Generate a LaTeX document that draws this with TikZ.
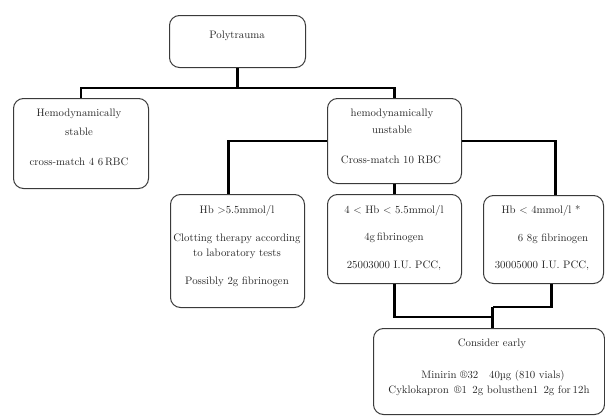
\documentclass[tikz,border=0pt]{standalone}
\usetikzlibrary{calc}
\definecolor{boxline}{HTML}{3A3A3A}
\definecolor{txt}{HTML}{262626}
\tikzset{
  box/.style={draw=boxline, line width=1pt, rounded corners=10pt, inner sep=0pt, anchor=north west},
  lbl/.style={text=txt, font=\fontsize{10.8}{13}\selectfont, inner sep=0pt, anchor=base},
  conn/.style={line width=2.6pt, black}
}
\begin{document}
\begin{tikzpicture}[x=1pt,y=-1pt]
\useasboundingbox (0,0) rectangle (605,415);
% boxes
\node[box, minimum width=136pt, minimum height=52pt] (poly) at (169,15) {};
\node[box, minimum width=135pt, minimum height=90pt] (stable) at (13,98) {};
\node[box, minimum width=134pt, minimum height=85pt] (unstable) at (327,98) {};
\node[box, minimum width=134pt, minimum height=113pt] (hbone) at (170,194) {};
\node[box, minimum width=134pt, minimum height=89pt] (hbtwo) at (327,194) {};
\node[box, minimum width=120pt, minimum height=88pt] (hbthree) at (483,195) {};
\node[box, minimum width=231pt, minimum height=86pt] (early) at (373,328) {};
% texts
\node[lbl] (tpoly) at (237,38) {Polytrauma};
\node[lbl] (ts1) at (79,116) {Hemodynamically};
\node[lbl] (ts2) at (79,135) {stable};
\node[lbl] (ts3) at (79,165) {cross-match 4 6\,RBC};
\node[lbl] (tu1) at (392,116) {hemodynamically};
\node[lbl] (tu2) at (392,133) {unstable};
\node[lbl] (tu3) at (391,163) {Cross-match 10 RBC};
\node[lbl] (ta1) at (237,213) {Hb >5.5mmol/l};
\node[lbl] (ta2) at (237,241) {Clotting therapy according};
\node[lbl] (ta3) at (237,256) {to laboratory tests};
\node[lbl] (ta4) at (237,284) {Possibly 2g fibrinogen};
\node[lbl] (tb1) at (394,213) {4 < Hb < 5.5mmol/l};
\node[lbl] (tb2) at (394,240) {4g\,fibrinogen};
\node[lbl] (tb3) at (394,268) {25003000 I.U. PCC,};
\node[lbl] (tc1) at (541,213) {Hb < 4mmol/l *};
\node[lbl] (tc2) at (553,241) {6 8g fibrinogen};
\node[lbl] (tc3) at (542,268) {30005000 I.U. PCC,};
\node[lbl] (te1) at (492,346) {Consider early};
\node[lbl] (te2) at (493,378) {Minirin ®32\quad 40µg (810 vials)};
\node[lbl] (te3) at (489,393) {Cyklokapron\enspace ®1\enspace 2g bolusthen1\enspace 2g for\,12h};
% connectors
\coordinate (split) at ($(poly.south)+(0,20)$);
\draw[conn] (poly.south) -- (split);
\draw[conn] (split) -| (stable.north);
\draw[conn] (split) -| (unstable.north);
\draw[conn] (unstable.west) -| ([xshift=-9pt]hbone.north);
\draw[conn] (unstable.east) -| ([xshift=12pt]hbthree.north);
\draw[conn] (unstable.south) -- (hbtwo.north);
\coordinate (join) at ($(early.north)+(3.5,-11)$);
\coordinate (jointwo) at ($(early.north)+(3.5,-21)$);
\draw[conn] (hbtwo.south) |- (join);
\draw[conn] ([xshift=8pt]hbthree.south) |- (jointwo);
\draw[conn] (jointwo) -- ([xshift=3.5pt]early.north);
\end{tikzpicture}
\end{document}
